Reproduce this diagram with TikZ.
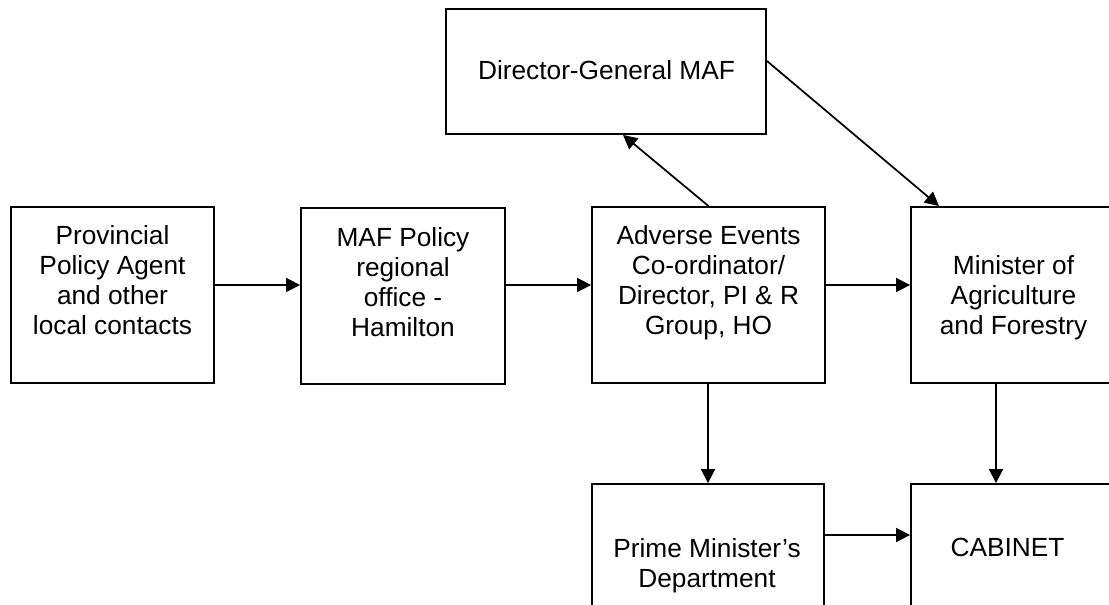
\documentclass[tikz,border=0pt]{standalone}
\usepackage{fontspec}
\setmainfont{Liberation Sans}
\usetikzlibrary{arrows.meta}
\begin{document}
\begin{tikzpicture}[x=0.75pt,y=-0.75pt,
  box/.style={draw=black, line width=1.4pt, inner sep=0pt, fill=none},
  txt/.style={inner sep=0pt, outer sep=0pt, align=center, anchor=north,
    font=\fontsize{19.7pt}{22.5pt}\selectfont},
  arr/.style={line width=1.3pt, -{Triangle[length=10.5pt,width=10.5pt]}}]
\useasboundingbox (0,0) rectangle (1109,605);
\clip (0,0) rectangle (1109,605);
% boxes
\node[box, minimum width=152.25pt, minimum height=132pt] (prov) at (112.5,295) {};
\node[box, minimum width=153pt,    minimum height=132pt] (maf)  at (403,296) {};
\node[box, minimum width=174.75pt, minimum height=132pt] (adv)  at (708.5,295) {};
\node[box, minimum width=153pt,    minimum height=132pt] (min)  at (1013,295) {};
\node[box, minimum width=240pt,    minimum height=93.75pt] (dg) at (606,71.5) {};
\node[box, minimum width=174pt,    minimum height=132pt] (pm)   at (708,572) {};
\node[box, minimum width=151.5pt,  minimum height=132pt] (cab)  at (1012,572) {};
% texts
\node[txt] (provT) at (112.5,225) {Provincial\\Policy Agent\\and other\\local contacts};
\node[txt] (mafT)  at (403,227) {MAF Policy\\regional\\office -\\Hamilton};
\node[txt] (advT)  at (708.5,225) {Adverse Events\\Co-ordinator/\\Director, PI \& R\\Group, HO};
\node[txt] (minT)  at (1013.5,255) {Minister of\\Agriculture\\and Forestry};
\node[txt] (dgT)   at (606.5,60) {Director-General MAF};
\node[txt] (pmT)   at (707,538) {Prime Minister’s\\Department};
\node[txt] (cabT)  at (1007.5,538) {CABINET};
% connectors
\draw[arr] (prov.east |- 0,285) -- (maf.west |- 0,285);
\draw[arr] (maf.east |- 0,285) -- (adv.west |- 0,285);
\draw[arr] (adv.east |- 0,285) -- (min.west |- 0,285);
\draw[arr] (adv.north) -- (dg.south -| 623,0);
\draw[arr] (dg.east |- 0,61) -- (min.north -| 939,0);
\draw[arr] (adv.south -| pm.north) -- (pm.north);
\draw[arr] (min.south -| 996,0) -- (cab.north -| 996,0);
\draw[arr] (pm.east |- 0,535) -- (cab.west |- 0,535);
\end{tikzpicture}
\end{document}
